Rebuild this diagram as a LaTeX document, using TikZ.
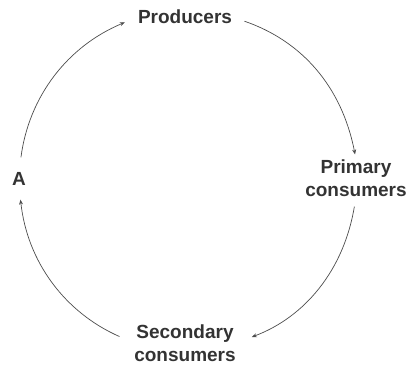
\documentclass[tikz,border=0pt]{standalone}
\usepackage{fontspec}
\setmainfont{Liberation Sans}
\usetikzlibrary{arrows.meta}

\tikzset{
  label/.style={text=black!80, inner sep=0pt, align=center,
    font=\bfseries\fontsize{19}{23}\selectfont},
  flow/.style={black!70, line width=0.7pt, bend left=30,
    -{Stealth[length=5pt,width=4pt]}}
}

\begin{document}
\begin{tikzpicture}[x=1pt,y=1pt]

  % === FRAME ===
  \useasboundingbox (0,0) rectangle (411,372);

  % =============================================
  % STEP 1: Labels round the cycle
  % =============================================
  \node[label] (prod) at (185,355) {Producers};
  \node[label] (prim) at (356,194) {Primary\\consumers};
  \node[label] (sec)  at (185,29)  {Secondary\\consumers};
  \node[label] (a)    at (19,193)  {A};

  % =============================================
  % STEP 2: Arcs, clockwise
  % =============================================
  \draw[flow, shorten <=15pt, shorten >=14pt] (a.north) to (prod.west);
  \draw[flow, shorten <=13pt, shorten >=5pt]  (prod.east) to (prim.north);
  \draw[flow, shorten <=10pt, shorten >=17pt] (prim.south) to (sec.east);
  \draw[flow, shorten <=16pt, shorten >=14pt] (sec.west) to (a.south);

\end{tikzpicture}
\end{document}
